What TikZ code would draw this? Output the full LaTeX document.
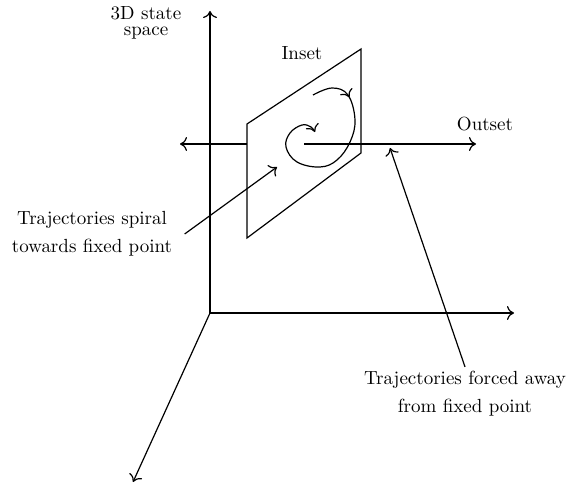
\documentclass[tikz,border=0pt]{standalone}
\usetikzlibrary{arrows.meta,positioning,decorations.markings}

\begin{document}
\begin{tikzpicture}[x=0.5pt, y=-0.5pt, semithick,
    >={To[length=3.5pt,width=7pt]},
    lbl/.style={font=\fontsize{9.5}{14}\selectfont, align=center, inner sep=2pt},
    tightlbl/.style={lbl, font=\fontsize{9.5}{8}\selectfont},
    midarrow/.style={postaction={decorate}, decoration={markings,
        mark=at position #1 with {\arrow{>}}}}]
    \useasboundingbox (0,0) rectangle (568,486);

    % Axes of the state space
    \coordinate (O) at (210,313);
    \coordinate (ztip) at (210,11);
    \coordinate (xtip) at (514,313);
    \coordinate (ytip) at (133,482);
    \draw[->] (O) -- (ztip);
    \draw[->] (O) -- (xtip);
    \draw[->] (O) -- (ytip);
    \node[tightlbl] (statelbl) at (146,23) {3D state\\space};

    % Inset plane
    \coordinate (pA) at (247,124);
    \coordinate (pB) at (361,49);
    \coordinate (pC) at (361,153);
    \coordinate (pD) at (247,238);
    \draw (pA) -- (pB) -- (pC) -- (pD) -- cycle;
    \node[lbl] (insetlbl) at (302,53) {Inset};

    % Outset line through the fixed point
    \coordinate (fp) at (304,144);
    \coordinate (outR) at (476,144);
    \coordinate (inL) at (247,144);
    \coordinate (outL) at (180,144);
    \draw[->] (fp) -- (outR);
    \draw[->] (inL) -- (outL);
    \node[lbl] (outsetlbl) at (485,124) {Outset};

    % Spiral in the plane
    \draw[->, midarrow=0.19] plot[smooth, tension=0.65] coordinates {
        (313,95) (332,88) (348,95) (355,120) (350,142) (337,160) (320,167)
        (297,162) (286,147) (290,133) (302,125) (311,127) (315,132)};

    % Callouts
    \node[lbl] (spirallbl) at (92,234) {Trajectories spiral\\towards fixed point};
    \coordinate (spiraltip) at (277,167);
    \draw[->] ([xshift=4pt]spirallbl.east) -- (spiraltip);

    \node[lbl] (forcedlbl) at (465,394) {Trajectories forced away\\from fixed point};
    \coordinate (forcedtip) at (390,148);
    \draw[->] (forcedlbl.north) -- (forcedtip);
\end{tikzpicture}
\end{document}
